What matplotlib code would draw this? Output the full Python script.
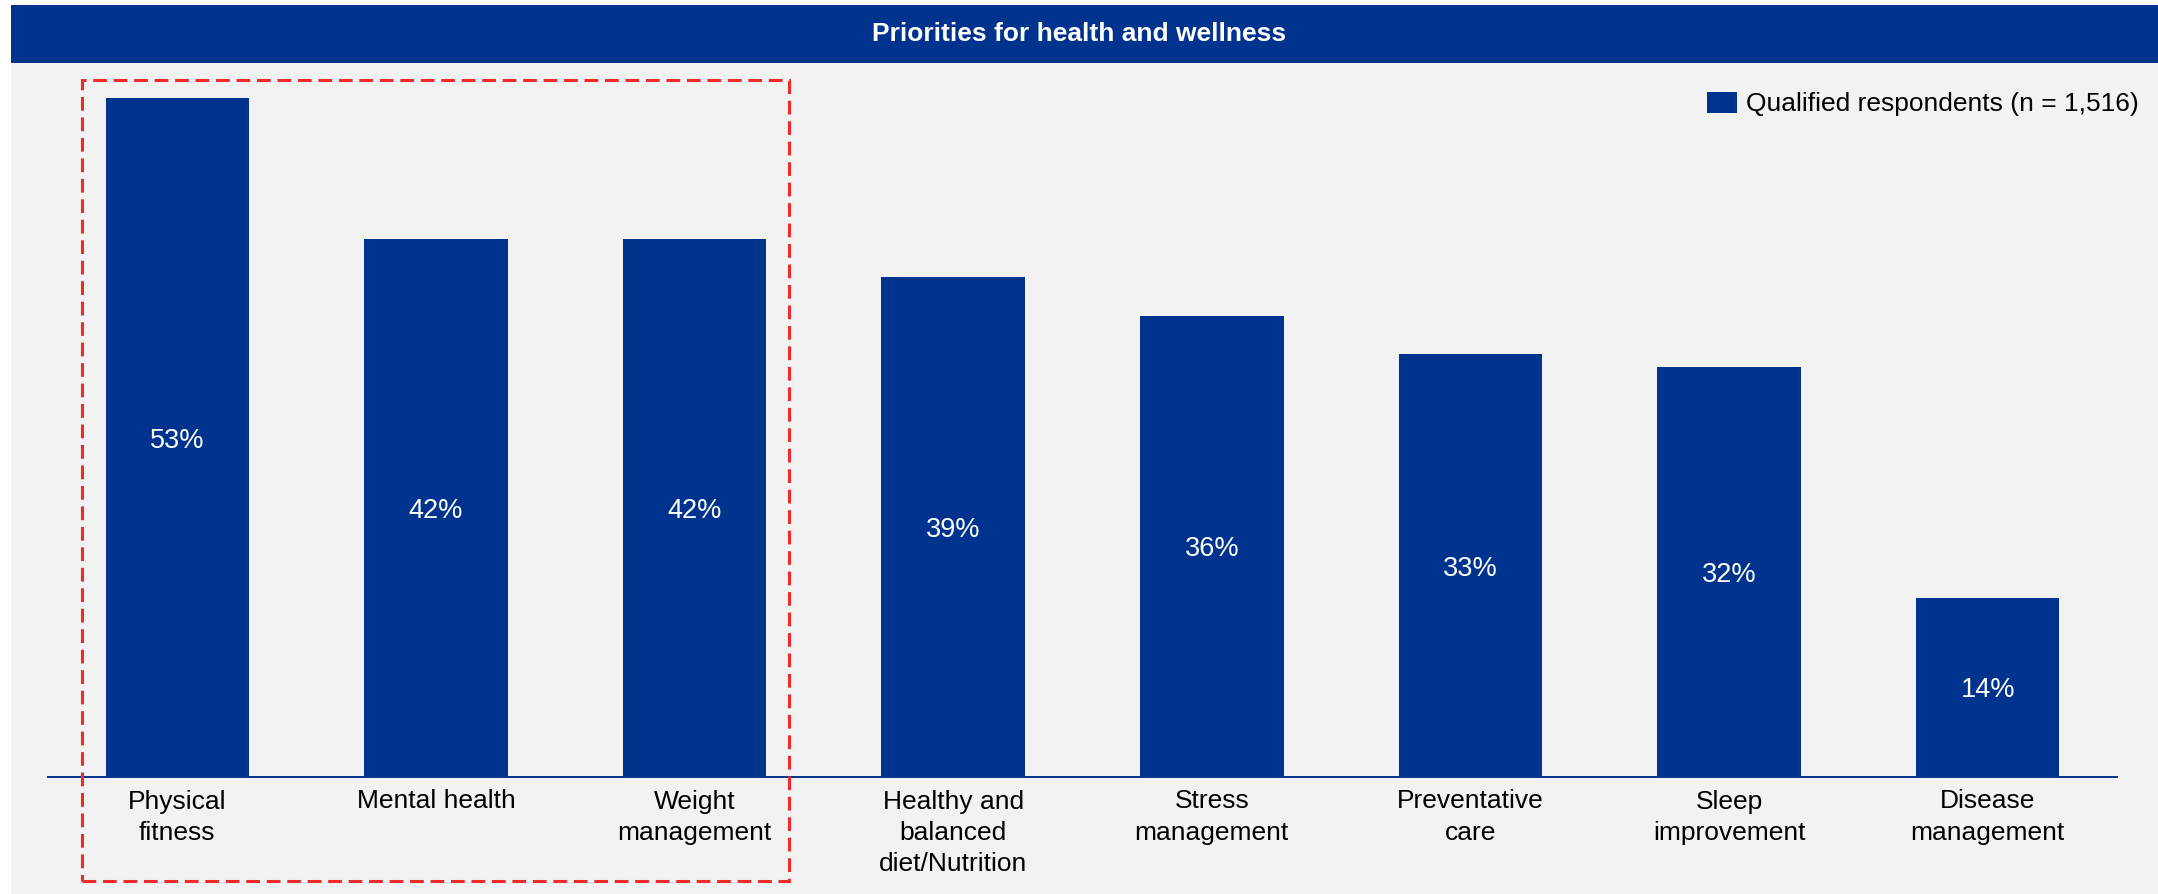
import matplotlib.pyplot as plt
from matplotlib.patches import Rectangle

plt.rcParams['font.family'] = ['Liberation Sans', 'DejaVu Sans']

categories = ['Physical\nfitness', 'Mental health', 'Weight\nmanagement',
              'Healthy and\nbalanced\ndiet/Nutrition', 'Stress\nmanagement',
              'Preventative\ncare', 'Sleep\nimprovement', 'Disease\nmanagement']
values = [53, 42, 42, 39, 36, 33, 32, 14]
series_name = 'Qualified respondents (n = 1,516)'
title = 'Priorities for health and wellness'

navy = '#00338D'
panel = '#F2F2F2'

W, H = 2158, 894
fig = plt.figure(figsize=(W / 100, H / 100), dpi=100)
fig.patch.set_facecolor('white')

# grey panel and title banner (pixel coordinates converted to figure fractions)
fig.patches.append(Rectangle((11 / W, 0), 1 - 11 / W, 1 - 63 / H,
                             transform=fig.transFigure, facecolor=panel,
                             edgecolor='none', zorder=-2))
fig.patches.append(Rectangle((11 / W, 1 - 63 / H), 1 - 11 / W, 58 / H,
                             transform=fig.transFigure, facecolor=navy,
                             edgecolor='none', zorder=-2))
fig.text(0.5, 1 - 34 / H, title, color='white', fontsize=19,
         fontweight='bold', ha='center', va='center')

base_y = 777
ax_top = base_y - 55 * 12.81
ax = fig.add_axes([48 / W, 1 - base_y / H, (2117 - 48) / W, (base_y - ax_top) / H])
ax.set_facecolor('none')
ax.set_zorder(1)

x = range(len(categories))
bars = ax.bar(x, values, width=0.555, color=navy, label=series_name, zorder=2)
for xi, v in zip(x, values):
    ax.text(xi, v / 2, f'{v}%', color='white', fontsize=19.5,
            ha='center', va='center_baseline', zorder=3)

ax.set_xlim(-0.5, 7.5)
ax.set_ylim(0, 55)
ax.set_xticks(list(x))
ax.set_xticklabels(categories, fontsize=19, linespacing=1.37)
ax.tick_params(axis='x', length=0, pad=9)
ax.set_yticks([])
for side in ('top', 'right', 'left'):
    ax.spines[side].set_visible(False)
ax.spines['bottom'].set_color(navy)
ax.spines['bottom'].set_linewidth(1.4)

fig.legend(loc='center right', bbox_to_anchor=(2139 / W, 1 - 104 / H),
           frameon=False, fontsize=19, handlelength=1.14, handleheight=0.87,
           handletextpad=0.35, borderpad=0, borderaxespad=0)

# dashed highlight around the top three
fig.patches.append(Rectangle((82 / W, 1 - 881 / H), (789 - 82) / W, (881 - 80) / H,
                             transform=fig.transFigure, fill=False,
                             edgecolor='#EE2A2A', linewidth=2.2,
                             linestyle=(0, (4.5, 2.2)), zorder=5))

fig.savefig('out.png', dpi=100)
